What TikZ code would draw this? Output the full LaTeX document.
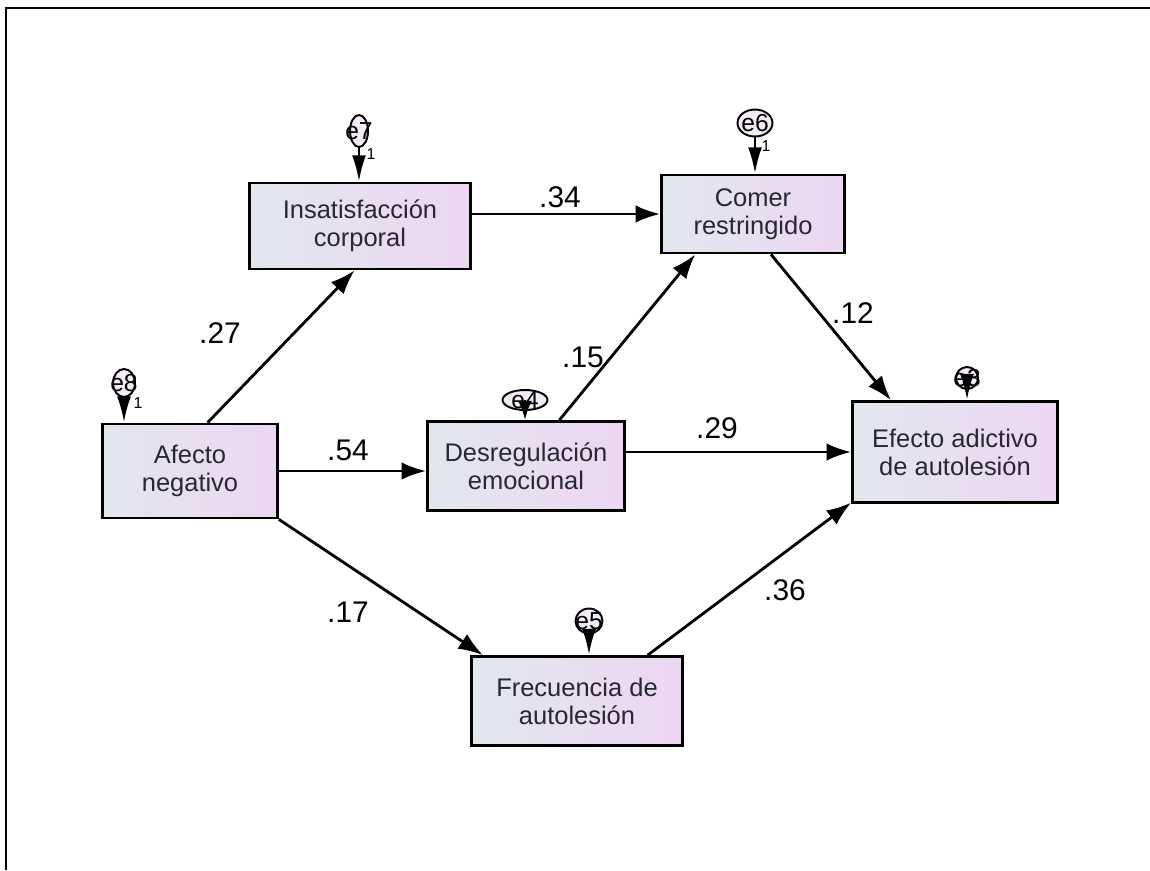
\documentclass[tikz,border=0pt]{standalone}
\usepackage{fontspec}
\setmainfont{Liberation Sans}
\usepackage{tikz}
\usetikzlibrary{arrows.meta,shapes.geometric}
\definecolor{boxleft}{RGB}{226,231,238}
\definecolor{boxright}{RGB}{236,214,242}
\definecolor{errfill}{RGB}{242,234,247}
\definecolor{inktext}{RGB}{40,40,48}

\begin{document}
\begin{tikzpicture}[x=0.02cm,y=-0.02cm]
\tikzset{
    var/.style={draw,line width=1.6pt,left color=boxleft,right color=boxright,
        align=center,text=inktext,font=\fontsize{14.5}{16}\selectfont,inner sep=0pt},
    err/.style={ellipse,draw,line width=1.1pt,fill=errfill,inner sep=0pt},
    errname/.style={font=\fontsize{14}{14}\selectfont,inner sep=0pt},
    fixone/.style={font=\fontsize{9}{9}\selectfont,inner sep=0pt},
    coef/.style={font=\fontsize{17}{17}\selectfont,inner sep=0pt},
    effect/.style={line width=1.6pt,-{Latex[length=14pt,width=10pt]}},
    errpath/.style={line width=1.6pt,-{Latex[length=15pt,width=8pt]}}
}
\useasboundingbox (0,0) rectangle (1150,870);
\draw[line width=1.2pt] (6,870) -- (6,8) -- (1150,8);

% Observed variables
\node[var,minimum width=4.42cm,minimum height=1.72cm] (insat)  at (360,226) {Insatisfacción\\corporal};
\node[var,minimum width=3.66cm,minimum height=1.56cm] (comer)  at (753,214) {Comer\\restringido};
\node[var,minimum width=3.5cm,minimum height=1.88cm]  (afecto) at (190,471) {Afecto\\negativo};
\node[var,minimum width=3.94cm,minimum height=1.78cm] (desreg) at (526,466) {Desregulación\\emocional};
\node[var,minimum width=4.1cm,minimum height=2.02cm]  (efecto) at (955,452) {Efecto adictivo\\de autolesión};
\node[var,minimum width=4.22cm,minimum height=1.78cm] (frec)   at (577,701) {Frecuencia de\\autolesión};

% Error terms
\node[err,minimum width=0.36cm,minimum height=0.64cm] (e7) at (359,131) {};
\node[err,minimum width=0.7cm,minimum height=0.54cm]  (e6) at (755,123) {};
\node[err,minimum width=0.44cm,minimum height=0.56cm] (e8) at (124,383) {};
\node[err,minimum width=0.9cm,minimum height=0.4cm]   (e4) at (525,400) {};
\node[err,minimum width=0.54cm,minimum height=0.5cm]  (e5) at (589,621) {};
\node[err,minimum width=0.44cm,minimum height=0.44cm] (e3) at (967,378) {};

\node[errname] (e7n) at (e7) {e7};
\node[errname] (e6n) at (e6) {e6};
\node[errname] (e8n) at (e8) {e8};
\node[errname] (e4n) at (e4) {e4};
\node[errname] (e5n) at (e5) {e5};
\node[errname] (e3n) at (e3) {e3};

\draw[errpath] (e7.south) -- (e7.south |- insat.north);
\draw[errpath] (e6.south) -- (e6.south |- comer.north);
\draw[errpath] (e8.south) -- (e8.south |- afecto.north);
\draw[errpath,-{Latex[length=11pt,width=8pt]}] (e4.center) -- (e4.center |- desreg.north);
\draw[errpath] (e5.south) -- (e5.south |- frec.north);
\draw[errpath] (e3.south) -- (e3.south |- efecto.north);

\node[fixone] (one7) at (371,154) {1};
\node[fixone] (one6) at (766,146) {1};
\node[fixone] (one8) at (138,403) {1};

% Paths
\draw[effect] (afecto.70) -- (insat.-97);
\draw[effect] (insat.east |- comer.west) -- (comer.west);
\draw[effect] (afecto.east) -- (afecto.east -| desreg.west);
\draw[effect] (desreg.54) -- (comer.-145);
\draw[effect] (desreg.east |- efecto.west) -- (efecto.west);
\draw[effect] (comer.-66) -- (efecto.141);
\draw[effect] (afecto.south east) -- (frec.154);
\draw[effect] (frec.33) -- (efecto.-154);

% Coefficients
\node[coef] (c27) at (220,333) {.27};
\node[coef] (c34) at (560,197) {.34};
\node[coef] (c54) at (348,450) {.54};
\node[coef] (c15) at (583,357) {.15};
\node[coef] (c29) at (717,428) {.29};
\node[coef] (c12) at (853,313) {.12};
\node[coef] (c17) at (348,612) {.17};
\node[coef] (c36) at (785,590) {.36};

\end{tikzpicture}
\end{document}
